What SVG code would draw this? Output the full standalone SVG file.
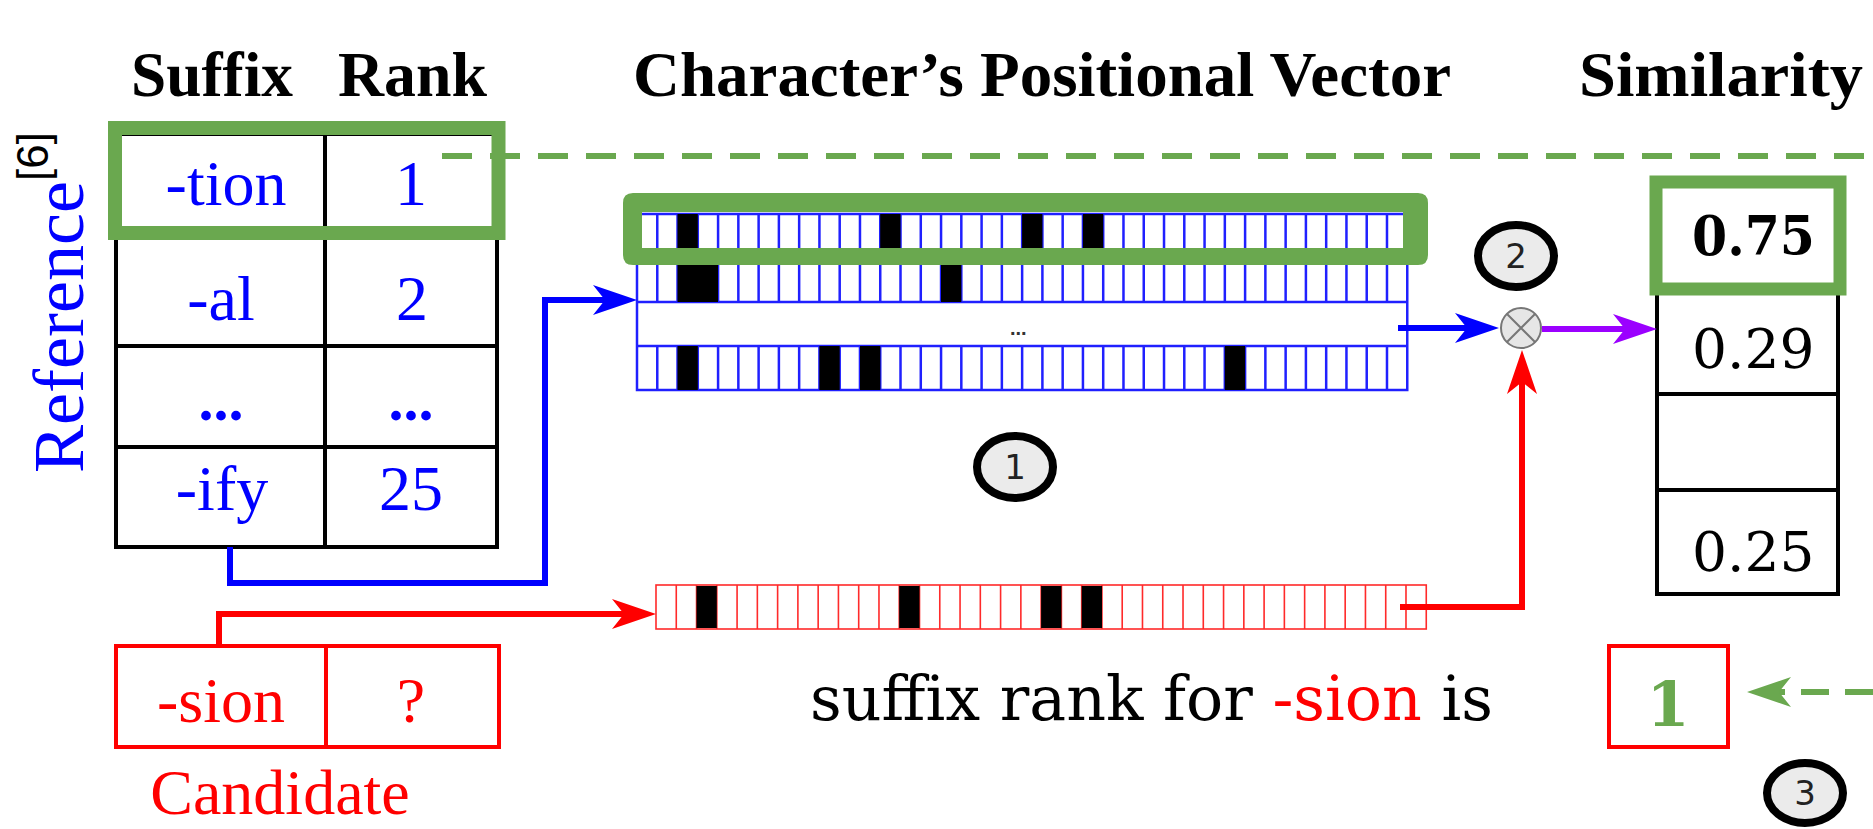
<svg xmlns="http://www.w3.org/2000/svg" xmlns:xlink="http://www.w3.org/1999/xlink" width="1873" height="829" viewBox="0 0 1873 829">
<style>
.hdr{font-family:"Liberation Serif",serif;font-weight:bold;font-size:63px;fill:#000}
.tm{font-family:"Liberation Serif",serif}
.cb{font-family:"DejaVu Serif",serif}
.blue{fill:#0000ff}
.red{fill:#ff0000}
.tbl{fill:#fff;stroke:#000;stroke-width:4}
.bgrid{fill:none;stroke:#2020ff;stroke-width:2.5}
.rgrid{fill:none;stroke:#ff2a2a;stroke-width:1.6}
.cell{fill:#000}
.step{fill:#ebebeb;stroke:#000;stroke-width:8}
.stepn{font-family:"DejaVu Sans",sans-serif;font-size:34px;fill:#222;text-anchor:middle}
.conn{fill:none;stroke-width:6}
</style>
<defs>
<path id="cols" d="M20.27 0v44M40.54 0v44M60.81 0v44M81.08 0v44M101.35 0v44M121.62 0v44M141.89 0v44M162.16 0v44M182.43 0v44M202.7 0v44M222.97 0v44M243.24 0v44M263.51 0v44M283.78 0v44M304.05 0v44M324.32 0v44M344.59 0v44M364.86 0v44M385.13 0v44M405.4 0v44M425.67 0v44M445.94 0v44M466.21 0v44M486.48 0v44M506.75 0v44M527.02 0v44M547.29 0v44M567.56 0v44M587.83 0v44M608.1 0v44M628.37 0v44M648.64 0v44M668.91 0v44M689.18 0v44M709.45 0v44M729.72 0v44M749.99 0v44"/>
<marker id="mb" markerUnits="userSpaceOnUse" markerWidth="60" markerHeight="40" viewBox="-20 -20 60 40" refX="0" refY="0" orient="auto"><path d="M30,0 L-14,-15 L-2,0 L-14,15 Z" fill="#0000ff"/></marker>
<marker id="mr" markerUnits="userSpaceOnUse" markerWidth="60" markerHeight="40" viewBox="-20 -20 60 40" refX="0" refY="0" orient="auto"><path d="M30,0 L-14,-15 L-2,0 L-14,15 Z" fill="#ff0000"/></marker>
<marker id="mp" markerUnits="userSpaceOnUse" markerWidth="60" markerHeight="40" viewBox="-20 -20 60 40" refX="0" refY="0" orient="auto"><path d="M30,0 L-14,-15 L-2,0 L-14,15 Z" fill="#9b00ff"/></marker>
<marker id="mg" markerUnits="userSpaceOnUse" markerWidth="60" markerHeight="40" viewBox="-20 -20 60 40" refX="0" refY="0" orient="auto"><path d="M30,0 L-14,-15 L-2,0 L-14,15 Z" fill="#6aa84f"/></marker>
</defs>
<rect width="1873" height="829" fill="#fff"/>

<g id="headers">
<text class="hdr" x="131" y="96" textLength="162" lengthAdjust="spacingAndGlyphs">Suffix</text>
<text class="hdr" x="338" y="96" textLength="149" lengthAdjust="spacingAndGlyphs">Rank</text>
<text class="hdr" x="633" y="96" textLength="818" lengthAdjust="spacingAndGlyphs">Character’s Positional Vector</text>
<text class="hdr" x="1579" y="96" textLength="284" lengthAdjust="spacingAndGlyphs">Similarity</text>
</g>

<g id="reference-label">
<text class="tm blue" font-size="71" textLength="292" lengthAdjust="spacingAndGlyphs" transform="translate(83,473) rotate(-90)">Reference</text>
<text font-family="Liberation Sans,sans-serif" font-size="44" fill="#000" transform="translate(48,181) rotate(-90)">[6]</text>
</g>

<g id="reference-table">
<rect class="tbl" x="116" y="134" width="381" height="413"/>
<path d="M116 238H497M116 346H497M116 447H497M325 134V547" stroke="#000" stroke-width="4"/>
<g class="tm blue" font-size="64" text-anchor="middle">
<text x="226" y="205">-tion</text><text x="411" y="205">1</text>
<text x="221" y="320">-al</text><text x="412" y="320">2</text>
<text x="221" y="420" font-weight="bold" font-size="60">...</text><text x="411" y="420" font-weight="bold" font-size="60">...</text>
<text x="222" y="510">-ify</text><text x="411" y="510">25</text>
</g>
<rect x="115" y="128" width="383.5" height="105" fill="none" stroke="#6aa84f" stroke-width="14"/>
</g>

<g id="reference-vectors">
<rect x="637" y="214" width="770.26" height="176" fill="#fff" stroke="#2020ff" stroke-width="2.5"/>
<path d="M637 258H1407M637 302H1407M637 346H1407" stroke="#2020ff" stroke-width="2.5"/>
<use xlink:href="#cols" class="bgrid" x="637" y="214"/>
<use xlink:href="#cols" class="bgrid" x="637" y="258"/>
<use xlink:href="#cols" class="bgrid" x="637" y="346"/>
<rect class="cell" x="677.5" y="214" width="20.3" height="44"/>
<rect class="cell" x="880.2" y="214" width="20.3" height="44"/>
<rect class="cell" x="1022.1" y="214" width="20.3" height="44"/>
<rect class="cell" x="1082.9" y="214" width="20.3" height="44"/>
<rect class="cell" x="677.5" y="258" width="40.5" height="44"/>
<rect class="cell" x="941" y="258" width="20.3" height="44"/>
<rect class="cell" x="677.5" y="346" width="20.3" height="44"/>
<rect class="cell" x="819.4" y="346" width="20.3" height="44"/>
<rect class="cell" x="860" y="346" width="20.3" height="44"/>
<rect class="cell" x="1224.8" y="346" width="20.3" height="44"/>
<text x="1010" y="335" font-family="Liberation Sans,sans-serif" font-size="20" font-weight="bold" fill="#333">...</text>
<path d="M623 203Q623 193 633 193H1418Q1428 193 1428 203V255Q1428 265 1418 265H633Q623 265 623 255ZM642 212V248H1403V212Z" fill="#6aa84f" fill-rule="evenodd"/>
</g>

<g id="candidate-vector">
<rect x="656" y="585" width="770.26" height="44" fill="#fff" stroke="#ff2a2a" stroke-width="1.6"/>
<use xlink:href="#cols" class="rgrid" x="656" y="585"/>
<rect class="cell" x="696.5" y="586" width="20.3" height="42"/>
<rect class="cell" x="899.2" y="586" width="20.3" height="42"/>
<rect class="cell" x="1041.1" y="586" width="20.3" height="42"/>
<rect class="cell" x="1081.7" y="586" width="20.3" height="42"/>
</g>

<g id="candidate-table">
<rect x="116" y="646" width="383" height="101" fill="#fff" stroke="#ff0000" stroke-width="4"/>
<path d="M326 646V747" stroke="#ff0000" stroke-width="4"/>
<g class="tm red" font-size="64" text-anchor="middle">
<text x="221" y="722">-sion</text><text x="411" y="722">?</text>
<text x="280" y="814">Candidate</text>
</g>
</g>

<g id="multiply">
<circle cx="1521" cy="328" r="20" fill="#e6e6e6" stroke="#777" stroke-width="2"/>
<path d="M1507 314L1535 342M1535 314L1507 342" stroke="#777" stroke-width="2"/>
</g>

<g id="similarity-table">
<rect class="tbl" x="1657" y="182" width="181" height="412"/>
<path d="M1657 290H1838M1657 394H1838M1657 490H1838" stroke="#000" stroke-width="4"/>
<text class="cb" x="1692" y="255" font-size="54" font-weight="bold" textLength="123" lengthAdjust="spacingAndGlyphs">0.75</text>
<text class="cb" x="1692" y="368" font-size="55">0.29</text>
<text class="cb" x="1692" y="571" font-size="55">0.25</text>
<rect x="1656" y="182" width="184" height="107" fill="none" stroke="#6aa84f" stroke-width="13"/>
</g>

<g id="result">
<text class="cb" x="810" y="720" font-size="62" fill="#000" textLength="683" lengthAdjust="spacingAndGlyphs">suffix rank for <tspan fill="#ff0000">-sion</tspan> is</text>
<rect x="1609" y="646" width="119" height="101" fill="#fff" stroke="#ff0000" stroke-width="4"/>
<text class="cb" x="1668" y="726" font-size="62" font-weight="bold" fill="#6aa84f" text-anchor="middle">1</text>
</g>

<g id="steps">
<ellipse class="step" cx="1015" cy="467" rx="38" ry="31"/>
<text class="stepn" x="1015" y="479">1</text>
<ellipse class="step" cx="1516" cy="256" rx="38" ry="31"/>
<text class="stepn" x="1516" y="268">2</text>
<ellipse class="step" cx="1805" cy="793" rx="38" ry="30"/>
<text class="stepn" x="1805" y="805">3</text>
</g>

<g id="connectors">
<path class="conn" d="M230 547V583H545V300H607" stroke="#0000ff" marker-end="url(#mb)"/>
<path class="conn" d="M219 646V614H626" stroke="#ff0000" marker-end="url(#mr)"/>
<path class="conn" d="M1398 328H1469" stroke="#0000ff" marker-end="url(#mb)"/>
<path class="conn" d="M1400 607H1522V380" stroke="#ff0000" marker-end="url(#mr)"/>
<path class="conn" d="M1542 329H1627" stroke="#9b00ff" stroke-width="5" marker-end="url(#mp)"/>
<path class="conn" d="M442 156H1873" stroke="#6aa84f" stroke-dasharray="30 18"/>
<path class="conn" d="M1873 692H1777" stroke="#6aa84f" stroke-dasharray="28 16" marker-end="url(#mg)"/>
</g>
</svg>
